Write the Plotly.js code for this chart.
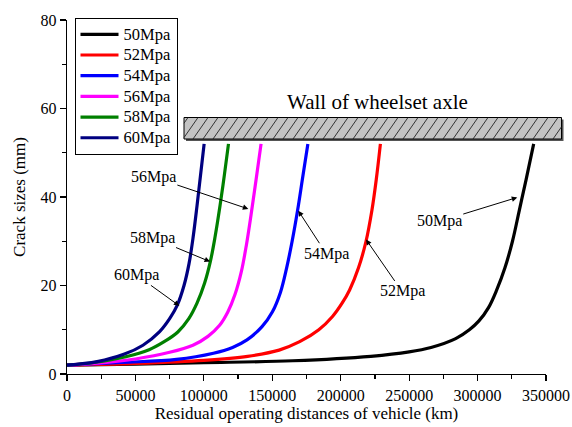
<!DOCTYPE html>
<html>
<head>
<meta charset="utf-8">
<script src="https://cdn.plot.ly/plotly-3.0.1.min.js"></script>
<style>html,body{margin:0;padding:0;background:#fff;}#chart{width:572px;height:427px;}</style>
</head>
<body>
<div id="chart"></div>
<script>
// Series names
const seriesNames = ["50Mpa", "52Mpa", "54Mpa", "56Mpa", "58Mpa", "60Mpa"];
const seriesColors = ["#000000", "#FF0000", "#0000FF", "#FF00FF", "#008000", "#000080"];

// Residual operating distance (km) and crack size (mm)
const x50 = [0, 50000, 100000, 165000, 222000, 250000, 266000, 284000, 294000, 301000, 308000, 314000, 320000, 325500, 330500, 335500, 341000];
const y50 = [2, 2.25, 2.55, 3, 4, 5, 6, 8, 10, 12, 15, 19, 24, 30, 37, 44, 52];

const x52 = [0, 50000, 100000, 132000, 155000, 170000, 184000, 194000, 201000, 206500, 213000, 218500, 222800, 226000, 229000];
const y52 = [2, 2.4, 3.1, 4, 5.4, 7.3, 10, 13, 16, 19, 24, 30, 37, 44, 52];

const x54 = [0, 40000, 80000, 107000, 121000, 131500, 142500, 150000, 156000, 160500, 164500, 168500, 172000, 176000];
const y54 = [2, 2.6, 3.3, 4.7, 6, 7.7, 10.7, 14, 18.5, 24, 30, 37, 44, 52];

const x56 = [0, 25000, 50000, 75000, 92000, 103000, 111500, 117500, 122800, 127300, 131000, 134500, 138200, 141800];
const y56 = [2, 2.5, 3.4, 4.9, 6.5, 8.5, 11, 14, 18, 23, 29, 36, 44, 52];

const x58 = [0, 20000, 43000, 60000, 71000, 81000, 89000, 95000, 100500, 104800, 108200, 111800, 115000, 118000];
const y58 = [2, 2.6, 3.9, 5.5, 7.3, 9.5, 12.5, 16, 20.5, 25.5, 31, 38, 45, 52];

const x60 = [0, 22000, 42000, 55500, 67500, 75000, 80500, 85500, 89200, 92200, 95000, 97600, 100200];
const y60 = [2, 2.8, 4.5, 6.5, 9.5, 12.5, 15.5, 20, 25, 31, 38, 45, 52];

const xs = [x50, x52, x54, x56, x58, x60];
const ys = [y50, y52, y54, y56, y58, y60];

// Arrow annotations: label, tip x, tip y
const annLabels = ["56Mpa", "58Mpa", "60Mpa", "54Mpa", "52Mpa", "50Mpa"];
const annX = [132500, 104500, 82100, 169000, 218500, 329000];
const annY = [37.3, 25.4, 15.4, 36.9, 30.4, 39.9];
const annAx = [-95, -58, -43, 28, 36, -78];
const annAy = [-32, -24, -31, 43, 52, 24];

const xTicks = [0, 50000, 100000, 150000, 200000, 250000, 300000, 350000];
const yTicks = [0, 20, 40, 60, 80];

const FONT = "Liberation Serif, Times New Roman, serif";

const traces = seriesNames.map((n, i) => ({
  x: xs[i], y: ys[i], type: "scatter", mode: "lines",
  name: '<span style="font-size:16.5px">' + n + '</span>',
  line: {color: seriesColors[i], width: 3.2, shape: "spline", smoothing: 1.0}
}));

// plot area geometry in pixels
const L = 67, R = 26, T = 20, B = 53, W = 572, H = 427;
const pw = W - L - R, ph = H - T - B;
const px2paperX = p => (p - L) / pw;
const py2paperY = p => (H - B - p) / ph;

// wall of wheelset axle (decoration)
const wx0 = 184, wx1 = 561.5, wy0 = 117.5, wy1 = 139;
const shapes = [];
shapes.push({type: "rect", xref: "paper", yref: "paper",
  x0: px2paperX(wx0 + 2), x1: px2paperX(wx1 + 2), y0: py2paperY(wy1 + 2), y1: py2paperY(wy0 + 2),
  fillcolor: "#555555", line: {width: 0}});
shapes.push({type: "rect", xref: "paper", yref: "paper",
  x0: px2paperX(wx0), x1: px2paperX(wx1), y0: py2paperY(wy1), y1: py2paperY(wy0),
  fillcolor: "#C4C4C4", line: {color: "#000000", width: 1}});
const hh = wy1 - wy0, run = 15, step = 10;
for (let b = wx0 - run + 4; b < wx1; b += step) {
  let xa = b, ya = wy1, xb = b + run, yb = wy0;
  if (xa < wx0) { ya = wy1 - (wx0 - b) * hh / run; xa = wx0; }
  if (xb > wx1) { yb = wy1 - (wx1 - b) * hh / run; xb = wx1; }
  if (xb <= xa) continue;
  shapes.push({type: "line", xref: "paper", yref: "paper",
    x0: px2paperX(xa), y0: py2paperY(ya), x1: px2paperX(xb), y1: py2paperY(yb),
    line: {color: "#222222", width: 0.9}});
}

const annotations = annLabels.map((t, i) => ({
  x: annX[i], y: annY[i], xref: "x", yref: "y", text: t, showarrow: true,
  ax: annAx[i], ay: annAy[i], arrowhead: 2, arrowsize: 1.1, arrowwidth: 1, arrowcolor: "#000",
  font: {family: FONT, size: 16, color: "#000"}
}));
annotations.push({xref: "paper", yref: "paper", x: px2paperX(377), y: py2paperY(102),
  text: "Wall of wheelset axle", showarrow: false, xanchor: "center", yanchor: "middle",
  font: {family: FONT, size: 21, color: "#000"}});

const layout = {
  width: W, height: H,
  margin: {l: L, r: R, t: T, b: B, pad: 0},
  paper_bgcolor: "#fff", plot_bgcolor: "#fff",
  font: {family: FONT, color: "#000", size: 16},
  showlegend: true,
  legend: {x: px2paperX(74.5), y: py2paperY(18), xanchor: "left", yanchor: "top",
    bordercolor: "#000", borderwidth: 1, bgcolor: "#fff", itemwidth: 38,
    font: {family: FONT, size: 13.6, color: "#000"}, tracegroupgap: 0},
  xaxis: {range: [0, 350000], tickvals: xTicks, ticktext: xTicks.map(String),
    ticks: "outside", ticklen: 6, tickwidth: 1.2, tickcolor: "#000",
    showline: true, linecolor: "#000", linewidth: 1.3, showgrid: false, zeroline: false,
    minor: {dtick: 25000, ticks: "outside", ticklen: 3.5, tickwidth: 1.2, tickcolor: "#000", showgrid: false},
    tickfont: {family: FONT, size: 16, color: "#000"},
    title: {text: "Residual operating distances of vehicle (km)", font: {family: FONT, size: 17, color: "#000"}, standoff: 4},
    automargin: false},
  yaxis: {range: [0, 80], tickvals: yTicks, ticktext: yTicks.map(String),
    ticks: "outside", ticklen: 6, tickwidth: 1.2, tickcolor: "#000",
    showline: true, linecolor: "#000", linewidth: 1.3, showgrid: false, zeroline: false,
    minor: {dtick: 10, ticks: "outside", ticklen: 3.5, tickwidth: 1.2, tickcolor: "#000", showgrid: false},
    tickfont: {family: FONT, size: 16, color: "#000"},
    title: {text: "Crack sizes (mm)", font: {family: FONT, size: 17, color: "#000"}, standoff: 10},
    automargin: false},
  shapes: shapes,
  annotations: annotations
};

Plotly.newPlot("chart", traces, layout, {displayModeBar: false, staticPlot: true});
</script>
</body>
</html>
